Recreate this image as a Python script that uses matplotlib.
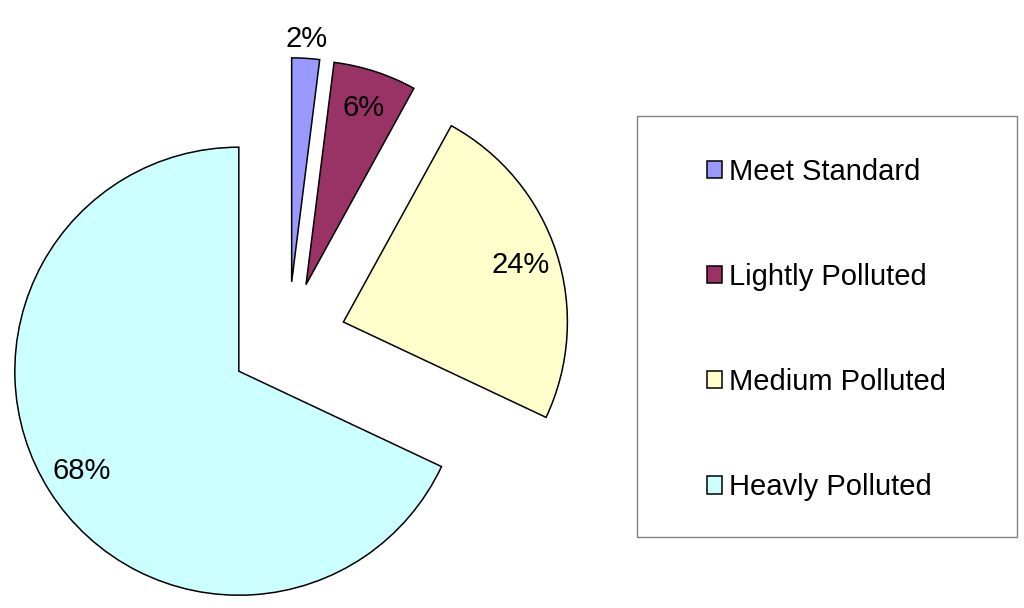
import numpy as np
import matplotlib
matplotlib.use('Agg')
import matplotlib.pyplot as plt
from matplotlib.patches import Rectangle

labels = ['Meet Standard', 'Lightly Polluted', 'Medium Polluted', 'Heavly Polluted']
shares = [2, 6, 24, 68]
colors = ['#9999FF', '#993366', '#FFFFCC', '#CCFFFF']

plt.rcParams['font.family'] = ['Liberation Sans', 'DejaVu Sans']

W, H = 1024, 608
R = 224.0            # pie radius in pixels
cx, cy = 288, 340    # pie centre in pixels (from top-left)

fig = plt.figure(figsize=(W / 100, H / 100), dpi=100)
ax = fig.add_axes([0, 0, 1, 1])

wedges, texts, autotexts = ax.pie(shares, colors=colors, explode=[0.26] * 4,
                                  startangle=90, counterclock=False,
                                  autopct='%.0f%%', pctdistance=0.83,
                                  wedgeprops=dict(edgecolor='black', linewidth=1.1),
                                  textprops=dict(fontsize=21))

# the smallest label sits outside its slice
w = wedges[0]
th = np.deg2rad((w.theta1 + w.theta2) / 2)
x0, y0 = w.center
autotexts[0].set_position((x0 + 1.085 * np.cos(th), y0 + 1.085 * np.sin(th)))

ax.set_xlim(-cx / R, (W - cx) / R)
ax.set_ylim(-(H - cy) / R, cy / R)
ax.axis('off')

# legend box
fig.add_artist(Rectangle((637 / W, 1 - 537 / H), 380 / W, 421 / H,
                         transform=fig.transFigure, fill=False,
                         edgecolor='#808080', linewidth=1))
fig.legend(wedges, labels, loc='upper left', bbox_to_anchor=(707 / W, 1 - 157.5 / H),
           frameon=False, fontsize=21, handlelength=0.53, handleheight=0.53,
           handletextpad=0.22, labelspacing=2.65, borderpad=0, borderaxespad=0)

plt.savefig('out.png', dpi=100)
